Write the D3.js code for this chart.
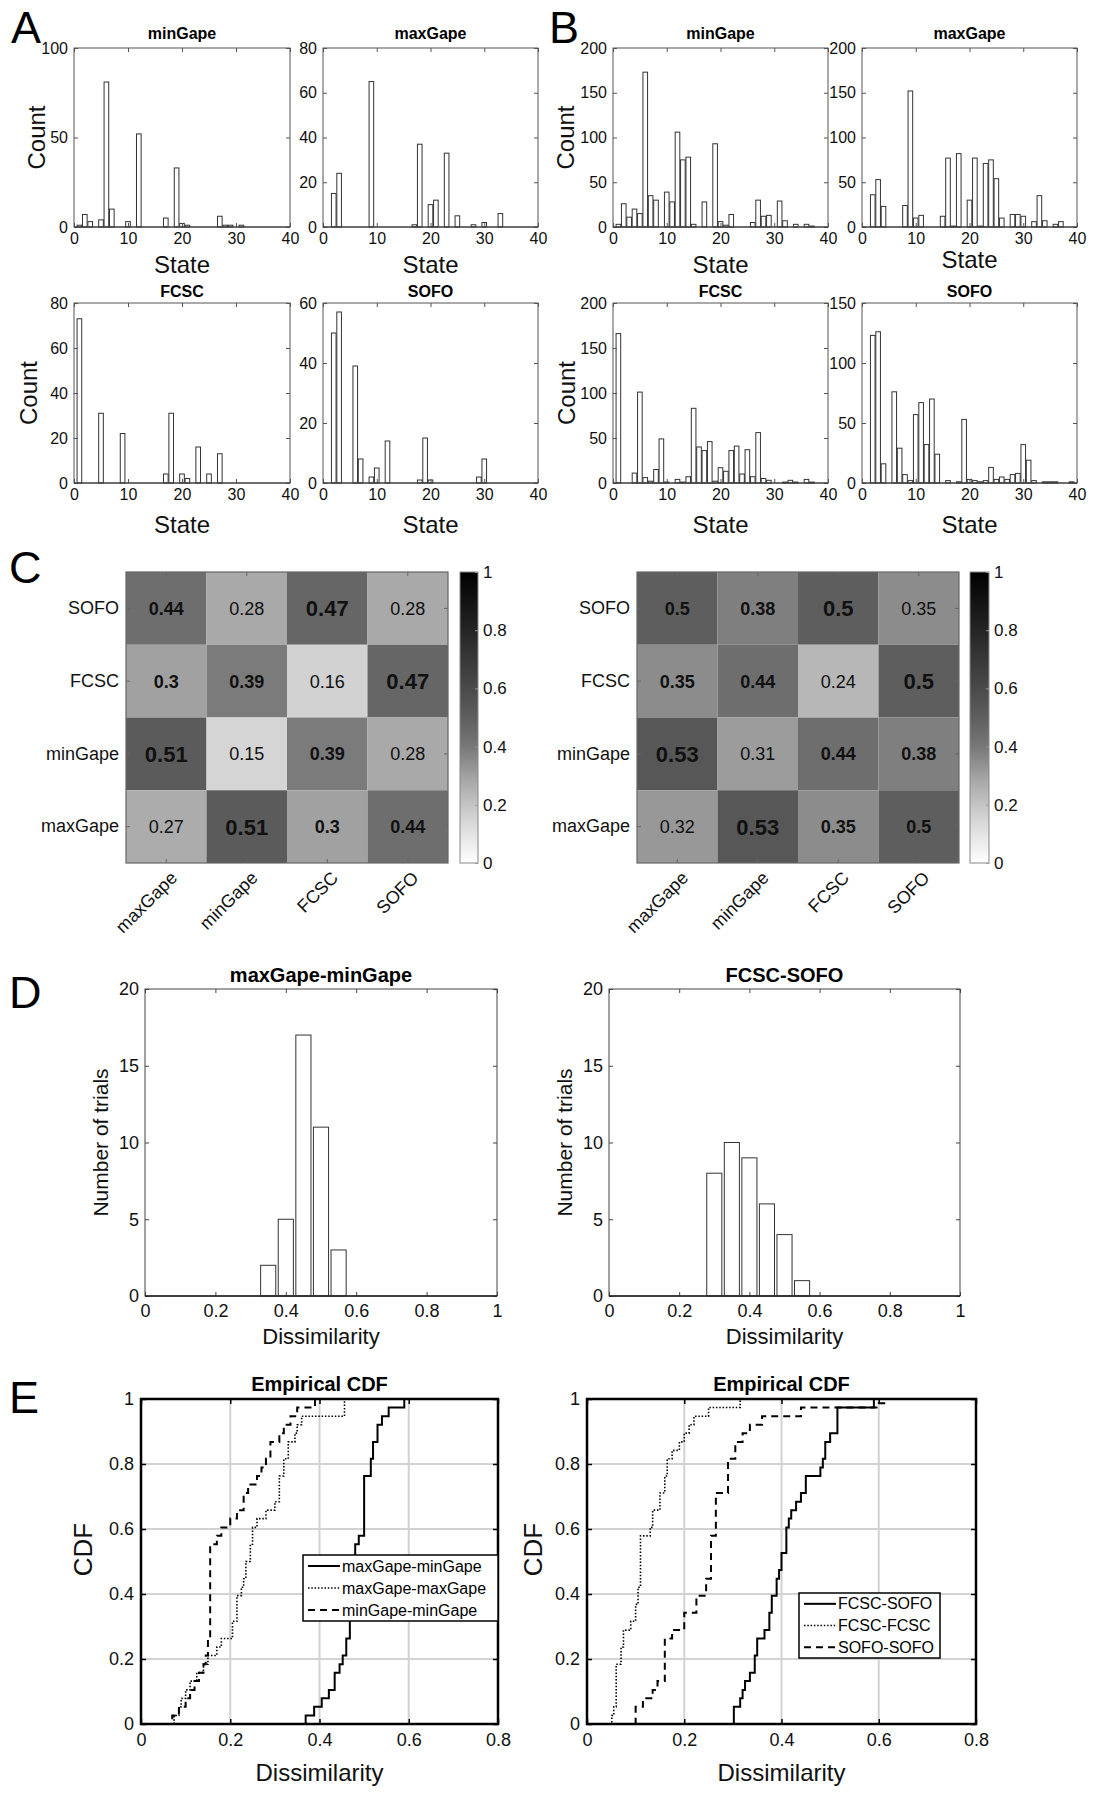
<!DOCTYPE html>
<html><head><meta charset="utf-8">
<script src="https://cdn.jsdelivr.net/npm/d3@7"></script>
<style>
body{margin:0;background:#fff;}
svg{display:block;}
</style></head><body>
<script>
// ---------------- DATA ----------------
const stateTicks = [0,10,20,30,40];
// Panel A : [state, count]
const aMinGape = [[1,1],[2,7],[3,3],[5,4],[6,81],[7,10],[10,3],[12,52],[17,5],[19,33],[20,2],[21,1],[27,6],[28,1],[29,1],[31,1]];
const aMaxGape = [[2,15],[3,24],[9,65],[17,1],[18,37],[20,10],[21,12],[23,33],[25,5],[28,1],[30,2],[33,6]];
const aFCSC = [[1,73],[5,31],[9,22],[17,4],[18,31],[20,4],[21,2],[23,16],[25,4],[27,13]];
const aSOFO = [[2,50],[3,57],[6,39],[7,8],[9,2],[10,5],[12,14],[18,1],[19,15],[20,1],[29,2],[30,8]];
// Panel B : [state, count]
const bMinGape = [[1,3],[2,26],[3,11],[4,20],[5,15],[6,173],[7,35],[8,30],[10,39],[11,28],[12,106],[13,75],[14,78],[15,3],[17,28],[19,93],[20,6],[21,2],[22,14],[26,5],[27,30],[28,12],[29,13],[31,29],[32,7],[34,3],[36,3],[37,1]];
const bMaxGape = [[2,36],[3,53],[4,23],[8,24],[9,152],[10,10],[11,13],[15,12],[16,77],[17,1],[18,82],[20,30],[21,77],[22,1],[23,71],[24,75],[25,54],[26,10],[28,14],[29,14],[30,12],[32,6],[33,35],[34,7],[36,3],[37,6]];
const bFCSC = [[1,166],[4,11],[5,101],[6,6],[7,2],[8,15],[9,49],[10,1],[12,4],[13,1],[14,7],[15,83],[16,40],[17,36],[18,46],[19,2],[20,17],[21,13],[22,36],[23,41],[24,10],[25,37],[26,7],[27,56],[28,5],[29,3],[32,1],[33,3],[34,1],[36,4],[37,1]];
const bSOFO = [[2,123],[3,126],[4,16],[6,76],[7,29],[8,7],[9,2],[10,57],[11,67],[12,32],[13,70],[14,24],[16,2],[18,1],[19,53],[20,3],[21,2],[22,1],[23,2],[24,13],[25,3],[26,5],[27,3],[28,7],[29,8],[30,32],[31,19],[32,2],[34,1],[35,1],[36,1],[39,1]];

// Panel C
const cCols = ['maxGape','minGape','FCSC','SOFO'];
const cRows = ['SOFO','FCSC','minGape','maxGape']; // top to bottom
const cLeftValues = [[0.44,0.28,0.47,0.28],[0.3,0.39,0.16,0.47],[0.51,0.15,0.39,0.28],[0.27,0.51,0.3,0.44]];
const cLeftEmph   = [[1,0,2,0],[1,1,0,2],[2,0,1,0],[0,2,1,1]];
const cRightValues = [[0.5,0.38,0.5,0.35],[0.35,0.44,0.24,0.5],[0.53,0.31,0.44,0.38],[0.32,0.53,0.35,0.5]];
const cRightEmph   = [[1,1,2,0],[1,1,0,2],[2,0,1,1],[0,2,1,1]];
const cbTicks = [0,0.2,0.4,0.6,0.8,1];

// Panel D : bin centres and counts
const dTicksX = [0,0.2,0.4,0.6,0.8,1];
const dTicksY = [0,5,10,15,20];
const dLeftCenters = [0.35,0.40,0.45,0.50,0.55];
const dLeftCounts  = [2,5,17,11,3];
const dRightCenters = [0.30,0.35,0.40,0.45,0.50,0.55];
const dRightCounts  = [8,10,9,6,4,1];

// Panel E : empirical CDF steps [dissimilarity, cdf level reached]
const eTicksX = [0,0.2,0.4,0.6,0.8];
const eTicksY = [0,0.2,0.4,0.6,0.8,1];
const eMaxMin = [[0.369,0.026],[0.388,0.053],[0.405,0.079],[0.421,0.105],[0.434,0.158],[0.445,0.184],[0.452,0.211],[0.46,0.263],[0.468,0.368],[0.476,0.5],[0.48,0.553],[0.488,0.579],[0.50,0.763],[0.515,0.816],[0.52,0.868],[0.53,0.921],[0.54,0.947],[0.555,0.974],[0.59,1]];
const eMaxMax = [[0.074,0.026],[0.085,0.053],[0.09,0.079],[0.1,0.105],[0.11,0.132],[0.125,0.158],[0.14,0.184],[0.15,0.211],[0.17,0.237],[0.18,0.263],[0.205,0.316],[0.215,0.395],[0.225,0.421],[0.23,0.447],[0.235,0.5],[0.245,0.553],[0.25,0.605],[0.26,0.632],[0.28,0.658],[0.30,0.684],[0.31,0.763],[0.32,0.816],[0.33,0.868],[0.345,0.895],[0.35,0.921],[0.36,0.947],[0.456,1]];
const eMinMin = [[0.07,0.026],[0.085,0.053],[0.1,0.079],[0.11,0.105],[0.12,0.132],[0.13,0.158],[0.14,0.184],[0.145,0.211],[0.15,0.263],[0.155,0.553],[0.17,0.579],[0.18,0.605],[0.2,0.632],[0.215,0.658],[0.23,0.711],[0.24,0.737],[0.26,0.763],[0.27,0.789],[0.28,0.816],[0.29,0.868],[0.31,0.895],[0.32,0.921],[0.335,0.947],[0.35,0.974],[0.39,1]];
const eFcscSofo = [[0.302,0.053],[0.315,0.079],[0.32,0.105],[0.325,0.132],[0.335,0.158],[0.345,0.211],[0.35,0.263],[0.365,0.289],[0.375,0.342],[0.38,0.395],[0.39,0.447],[0.395,0.474],[0.40,0.526],[0.41,0.605],[0.415,0.632],[0.42,0.658],[0.43,0.684],[0.44,0.711],[0.45,0.763],[0.48,0.789],[0.485,0.816],[0.49,0.868],[0.50,0.895],[0.515,0.974],[0.59,1]];
const eFcscFcsc = [[0.051,0.026],[0.055,0.053],[0.06,0.184],[0.07,0.237],[0.075,0.289],[0.09,0.316],[0.1,0.368],[0.105,0.421],[0.11,0.579],[0.13,0.605],[0.135,0.658],[0.15,0.711],[0.16,0.763],[0.165,0.816],[0.175,0.842],[0.19,0.868],[0.2,0.895],[0.21,0.921],[0.22,0.947],[0.25,0.974],[0.315,1]];
const eSofoSofo = [[0.1,0.053],[0.115,0.079],[0.135,0.105],[0.145,0.132],[0.16,0.263],[0.175,0.289],[0.2,0.342],[0.225,0.395],[0.245,0.447],[0.255,0.579],[0.265,0.711],[0.29,0.816],[0.305,0.868],[0.32,0.895],[0.335,0.921],[0.36,0.947],[0.44,0.974],[0.6,0.987],[0.615,1]];
const eLeftNames = ['maxGape-minGape','maxGape-maxGape','minGape-minGape'];
const eRightNames = ['FCSC-SOFO','FCSC-FCSC','SOFO-SOFO'];

// ---------------- DRAWING ----------------
const W = 1096, H = 1800;
const FONT = '"Liberation Sans", Arial, Helvetica, sans-serif';
const svg = d3.select('body').append('svg').attr('width', W).attr('height', H)
  .attr('font-family', FONT).style('background', '#fff');

function styleAxis(sel, fs, tickColor, textColor, tw) {
  sel.attr('font-family', FONT).attr('font-size', fs);
  sel.select('.domain').remove();
  sel.selectAll('.tick line').attr('stroke', tickColor).attr('stroke-width', tw || 1);
  sel.selectAll('.tick text').attr('fill', textColor);
  return sel;
}
function txt(g, x, y, s, o) {
  o = o || {};
  const t = g.append('text').attr('x', x).attr('y', y).text(s)
    .attr('font-size', o.fs || 16).attr('text-anchor', o.anchor || 'middle')
    .attr('fill', o.fill || '#111').attr('font-weight', o.bold ? 'bold' : 'normal');
  if (o.rot) t.attr('transform', `rotate(${o.rot},${x},${y})`);
  return t;
}
function panelLetter(s, x, y) { txt(svg, x, y, s, {fs: 45, anchor: 'start', fill: '#000'}); }

// ---- A/B state histograms ----
const BW = 0.86;
function statePanel(p) {
  const g = svg.append('g');
  const x = d3.scaleLinear().domain([0, 40]).range([p.x0, p.x1]);
  const y = d3.scaleLinear().domain([0, p.yMax]).range([p.y1, p.y0]);
  g.append('g').selectAll('rect').data(p.data).join('rect')
    .attr('x', d => x(d[0] - BW / 2)).attr('y', d => y(d[1]))
    .attr('width', d => x(d[0] + BW / 2) - x(d[0] - BW / 2))
    .attr('height', d => y(0) - y(d[1]))
    .attr('fill', '#fff').attr('stroke', '#333').attr('stroke-width', 1);
  const fc = '#555';
  styleAxis(g.append('g').attr('transform', `translate(0,${p.y1})`)
    .call(d3.axisBottom(x).tickValues(stateTicks).tickSize(-4).tickSizeOuter(0).tickPadding(6)), 16, fc, '#111');
  styleAxis(g.append('g').attr('transform', `translate(0,${p.y0})`)
    .call(d3.axisTop(x).tickValues(stateTicks).tickSize(-4).tickSizeOuter(0).tickFormat('')), 16, fc, '#111');
  styleAxis(g.append('g').attr('transform', `translate(${p.x0},0)`)
    .call(d3.axisLeft(y).tickValues(p.yTicks).tickSize(-4).tickSizeOuter(0).tickPadding(6)), 16, fc, '#111');
  styleAxis(g.append('g').attr('transform', `translate(${p.x1},0)`)
    .call(d3.axisRight(y).tickValues(p.yTicks).tickSize(-4).tickSizeOuter(0).tickFormat('')), 16, fc, '#111');
  g.append('rect').attr('x', p.x0).attr('y', p.y0).attr('width', p.x1 - p.x0).attr('height', p.y1 - p.y0)
    .attr('fill', 'none').attr('stroke', fc).attr('stroke-width', 1);
  g.append('line').attr('x1', p.x0).attr('x2', p.x1).attr('y1', p.y1).attr('y2', p.y1).attr('stroke', '#333');
  txt(g, (p.x0 + p.x1) / 2, p.titleY, p.title, {fs: 16, bold: true, fill: '#000'});
  txt(g, (p.x0 + p.x1) / 2, p.stateY, 'State', {fs: 24, fill: '#111'});
  if (p.countX) txt(g, p.countX, (p.y0 + p.y1) / 2, 'Count', {fs: 24, rot: -90, fill: '#111'});
}

panelLetter('A', 11, 43);
panelLetter('B', 549, 43);
statePanel({x0: 74, x1: 290, y0: 48, y1: 227, yMax: 100, yTicks: [0,50,100], data: aMinGape, title: 'minGape', titleY: 39, stateY: 273, countX: 45});
statePanel({x0: 323, x1: 538, y0: 48, y1: 227, yMax: 80, yTicks: [0,20,40,60,80], data: aMaxGape, title: 'maxGape', titleY: 39, stateY: 273});
statePanel({x0: 74, x1: 290, y0: 303, y1: 483, yMax: 80, yTicks: [0,20,40,60,80], data: aFCSC, title: 'FCSC', titleY: 297, stateY: 533, countX: 37});
statePanel({x0: 323, x1: 538, y0: 303, y1: 483, yMax: 60, yTicks: [0,20,40,60], data: aSOFO, title: 'SOFO', titleY: 297, stateY: 533});
statePanel({x0: 613, x1: 828, y0: 48, y1: 227, yMax: 200, yTicks: [0,50,100,150,200], data: bMinGape, title: 'minGape', titleY: 39, stateY: 273, countX: 574});
statePanel({x0: 862, x1: 1077, y0: 48, y1: 227, yMax: 200, yTicks: [0,50,100,150,200], data: bMaxGape, title: 'maxGape', titleY: 39, stateY: 268});
statePanel({x0: 613, x1: 828, y0: 303, y1: 483, yMax: 200, yTicks: [0,50,100,150,200], data: bFCSC, title: 'FCSC', titleY: 297, stateY: 533, countX: 575});
statePanel({x0: 862, x1: 1077, y0: 303, y1: 483, yMax: 150, yTicks: [0,50,100,150], data: bSOFO, title: 'SOFO', titleY: 297, stateY: 533});

// ---- C heatmaps ----
const grayLevel = d3.scaleLinear().domain([0, 0.15, 0.28, 0.39, 0.51, 1]).range([255, 213, 169, 123, 91, 0]).clamp(true);
const grayOf = v => { const k = Math.round(grayLevel(v)); return d3.rgb(k, k, k).toString(); };
const defs = svg.append('defs');
const grad = defs.append('linearGradient').attr('id', 'cbGrad')
  .attr('x1', 0).attr('y1', 1).attr('x2', 0).attr('y2', 0);
d3.range(0, 1.0001, 0.05).forEach(v => grad.append('stop').attr('offset', v).attr('stop-color', grayOf(v)));

function heatPanel(p) {
  const g = svg.append('g');
  const xb = d3.scaleBand().domain(cCols).range([p.x0, p.x1]);
  const yb = d3.scaleBand().domain(cRows).range([p.y0, p.y1]);
  const cells = [];
  cRows.forEach((r, i) => cCols.forEach((c, j) => cells.push({r, c, v: p.values[i][j], e: p.emph[i][j]})));
  g.selectAll('rect.cell').data(cells).join('rect').attr('class', 'cell')
    .attr('x', d => xb(d.c)).attr('y', d => yb(d.r))
    .attr('width', xb.bandwidth()).attr('height', yb.bandwidth())
    .attr('fill', d => grayOf(d.v));
  g.selectAll('text.val').data(cells).join('text').attr('class', 'val')
    .attr('x', d => xb(d.c) + xb.bandwidth() / 2).attr('y', d => yb(d.r) + yb.bandwidth() / 2)
    .attr('dy', '0.36em').attr('text-anchor', 'middle')
    .attr('font-size', d => d.e === 2 ? 22 : 18)
    .attr('font-weight', d => d.e ? 'bold' : 'normal')
    .attr('fill', '#111')
    .text(d => d3.format('~g')(d.v));
  const fc = '#666';
  g.append('rect').attr('x', p.x0).attr('y', p.y0).attr('width', p.x1 - p.x0).attr('height', p.y1 - p.y0)
    .attr('fill', 'none').attr('stroke', fc).attr('stroke-width', 1.2);
  styleAxis(g.append('g').attr('transform', `translate(${p.x0},0)`)
    .call(d3.axisLeft(yb).tickSize(-4).tickPadding(7)), 18, fc, '#111');
  styleAxis(g.append('g').attr('transform', `translate(${p.x1},0)`)
    .call(d3.axisRight(yb).tickSize(-4).tickFormat('')), 18, fc, '#111');
  styleAxis(g.append('g').attr('transform', `translate(0,${p.y0})`)
    .call(d3.axisTop(xb).tickSize(-4).tickFormat('')), 18, fc, '#111');
  const bx = styleAxis(g.append('g').attr('transform', `translate(0,${p.y1})`)
    .call(d3.axisBottom(xb).tickSize(-4)), 18, fc, '#111');
  bx.selectAll('.tick text').attr('text-anchor', 'end').attr('x', 0).attr('y', 0).attr('dy', 0)
    .attr('transform', 'translate(12,16) rotate(-45)');
  // colorbar
  g.append('rect').attr('x', p.cbx).attr('y', p.y0).attr('width', p.cbw).attr('height', p.y1 - p.y0)
    .attr('fill', 'url(#cbGrad)').attr('stroke', '#888').attr('stroke-width', 1);
  const cy = d3.scaleLinear().domain([0, 1]).range([p.y1, p.y0]);
  styleAxis(g.append('g').attr('transform', `translate(${p.cbx + p.cbw},0)`)
    .call(d3.axisRight(cy).tickValues(cbTicks).tickSize(-3).tickPadding(5).tickFormat(d3.format('~g'))), 17, '#999', '#111');
}
panelLetter('C', 9, 583);
heatPanel({x0: 126, x1: 448, y0: 572, y1: 863, values: cLeftValues, emph: cLeftEmph, cbx: 460, cbw: 18});
heatPanel({x0: 637, x1: 959, y0: 572, y1: 863, values: cRightValues, emph: cRightEmph, cbx: 970, cbw: 19});

// ---- D histograms ----
const DBW = 0.043;
function dissPanel(p) {
  const g = svg.append('g');
  const x = d3.scaleLinear().domain([0, 1]).range([p.x0, p.x1]);
  const y = d3.scaleLinear().domain([0, 20]).range([p.y1, p.y0]);
  const data = p.centers.map((c, i) => [c, p.counts[i]]);
  g.selectAll('rect').data(data).join('rect')
    .attr('x', d => x(d[0] - DBW / 2)).attr('y', d => y(d[1]))
    .attr('width', d => x(d[0] + DBW / 2) - x(d[0] - DBW / 2)).attr('height', d => y(0) - y(d[1]))
    .attr('fill', '#fff').attr('stroke', '#333').attr('stroke-width', 1);
  const fc = '#444';
  styleAxis(g.append('g').attr('transform', `translate(0,${p.y1})`)
    .call(d3.axisBottom(x).tickValues(dTicksX).tickSize(-4).tickSizeOuter(0).tickPadding(8).tickFormat(d3.format('~g'))), 18, fc, '#111');
  styleAxis(g.append('g').attr('transform', `translate(0,${p.y0})`)
    .call(d3.axisTop(x).tickValues(dTicksX).tickSize(-4).tickSizeOuter(0).tickFormat('')), 18, fc, '#111');
  styleAxis(g.append('g').attr('transform', `translate(${p.x0},0)`)
    .call(d3.axisLeft(y).tickValues(dTicksY).tickSize(-4).tickSizeOuter(0).tickPadding(6)), 18, fc, '#111');
  styleAxis(g.append('g').attr('transform', `translate(${p.x1},0)`)
    .call(d3.axisRight(y).tickValues(dTicksY).tickSize(-4).tickSizeOuter(0).tickFormat('')), 18, fc, '#111');
  g.append('rect').attr('x', p.x0).attr('y', p.y0).attr('width', p.x1 - p.x0).attr('height', p.y1 - p.y0)
    .attr('fill', 'none').attr('stroke', fc).attr('stroke-width', 1);
  g.append('line').attr('x1', p.x0).attr('x2', p.x1).attr('y1', p.y1).attr('y2', p.y1).attr('stroke', '#222').attr('stroke-width', 1.5);
  txt(g, (p.x0 + p.x1) / 2, 982, p.title, {fs: 20, bold: true, fill: '#000'});
  txt(g, (p.x0 + p.x1) / 2, 1344, 'Dissimilarity', {fs: 22, fill: '#111'});
  txt(g, p.ylx, (p.y0 + p.y1) / 2, 'Number of trials', {fs: 21, rot: -90, fill: '#111'});
}
panelLetter('D', 9, 1008);
dissPanel({x0: 145, x1: 497, y0: 989, y1: 1296, centers: dLeftCenters, counts: dLeftCounts, title: 'maxGape-minGape', ylx: 108});
dissPanel({x0: 609, x1: 960, y0: 989, y1: 1296, centers: dRightCenters, counts: dRightCounts, title: 'FCSC-SOFO', ylx: 572});

// ---- E CDFs ----
const lineStyles = [
  {dash: null, w: 2},
  {dash: '1.5,1.8', w: 1.6},
  {dash: '7,5', w: 2}
];
let clipN = 0;
function cdfPanel(p) {
  const g = svg.append('g');
  const x = d3.scaleLinear().domain([0, 0.8]).range([p.x0, p.x1]);
  const y = d3.scaleLinear().domain([0, 1]).range([p.y1, p.y0]);
  const id = 'clip' + (clipN++);
  defs.append('clipPath').attr('id', id).append('rect')
    .attr('x', p.x0).attr('y', p.y0 - 2).attr('width', p.x1 - p.x0).attr('height', p.y1 - p.y0 + 4);
  // grid
  g.append('g').selectAll('line').data(eTicksX.slice(1, -1)).join('line')
    .attr('x1', d => x(d)).attr('x2', d => x(d)).attr('y1', p.y0).attr('y2', p.y1)
    .attr('stroke', '#d2d2d2').attr('stroke-width', 2);
  g.append('g').selectAll('line').data(eTicksY.slice(1, -1)).join('line')
    .attr('y1', d => y(d)).attr('y2', d => y(d)).attr('x1', p.x0).attr('x2', p.x1)
    .attr('stroke', '#d2d2d2').attr('stroke-width', 2);
  const line = d3.line().x(d => x(d[0])).y(d => y(d[1])).curve(d3.curveStepAfter);
  const cg = g.append('g').attr('clip-path', `url(#${id})`);
  p.series.forEach((s, i) => {
    const pts = [[0, 0]].concat(s).concat([[0.8, 1]]);
    const path = cg.append('path').attr('d', line(pts)).attr('fill', 'none')
      .attr('stroke', '#000').attr('stroke-width', lineStyles[i].w);
    if (lineStyles[i].dash) path.attr('stroke-dasharray', lineStyles[i].dash);
  });
  const fc = '#000';
  styleAxis(g.append('g').attr('transform', `translate(0,${p.y1})`)
    .call(d3.axisBottom(x).tickValues(eTicksX).tickSize(-5).tickSizeOuter(0).tickPadding(9).tickFormat(d3.format('~g'))), 18, fc, '#111', 1.5);
  styleAxis(g.append('g').attr('transform', `translate(0,${p.y0})`)
    .call(d3.axisTop(x).tickValues(eTicksX).tickSize(-5).tickSizeOuter(0).tickFormat('')), 18, fc, '#111', 1.5);
  styleAxis(g.append('g').attr('transform', `translate(${p.x0},0)`)
    .call(d3.axisLeft(y).tickValues(eTicksY).tickSize(-5).tickSizeOuter(0).tickPadding(7).tickFormat(d3.format('~g'))), 18, fc, '#111', 1.5);
  styleAxis(g.append('g').attr('transform', `translate(${p.x1},0)`)
    .call(d3.axisRight(y).tickValues(eTicksY).tickSize(-5).tickSizeOuter(0).tickFormat('')), 18, fc, '#111', 1.5);
  g.append('rect').attr('x', p.x0).attr('y', p.y0).attr('width', p.x1 - p.x0).attr('height', p.y1 - p.y0)
    .attr('fill', 'none').attr('stroke', '#000').attr('stroke-width', 2.5);
  txt(g, (p.x0 + p.x1) / 2, 1391, 'Empirical CDF', {fs: 20, bold: true, fill: '#000'});
  txt(g, (p.x0 + p.x1) / 2, 1781, 'Dissimilarity', {fs: 24, fill: '#111'});
  txt(g, p.ylx, (p.y0 + p.y1) / 2 - 12, 'CDF', {fs: 26, rot: -90, fill: '#111'});
  // legend
  const L = p.legend;
  const lg = g.append('g');
  lg.append('rect').attr('x', L.x).attr('y', L.y).attr('width', L.w).attr('height', L.h)
    .attr('fill', '#fff').attr('stroke', '#000').attr('stroke-width', 1.5);
  p.names.forEach((n, i) => {
    const yy = L.y + L.h * (i + 0.5) / 3;
    const ln = lg.append('line').attr('x1', L.x + 5).attr('x2', L.x + 37).attr('y1', yy).attr('y2', yy)
      .attr('stroke', '#000').attr('stroke-width', lineStyles[i].w);
    if (lineStyles[i].dash) ln.attr('stroke-dasharray', lineStyles[i].dash);
    txt(lg, L.x + 39, yy + 5.5, n, {fs: 16, anchor: 'start', fill: '#000'});
  });
}
panelLetter('E', 9, 1413);
cdfPanel({x0: 141, x1: 498, y0: 1399, y1: 1724, series: [eMaxMin, eMaxMax, eMinMin], names: eLeftNames, ylx: 92,
  legend: {x: 303, y: 1555, w: 195, h: 66}});
cdfPanel({x0: 587, x1: 976, y0: 1399, y1: 1724, series: [eFcscSofo, eFcscFcsc, eSofoSofo], names: eRightNames, ylx: 542,
  legend: {x: 799, y: 1593, w: 141, h: 65}});
</script>
</body></html>
